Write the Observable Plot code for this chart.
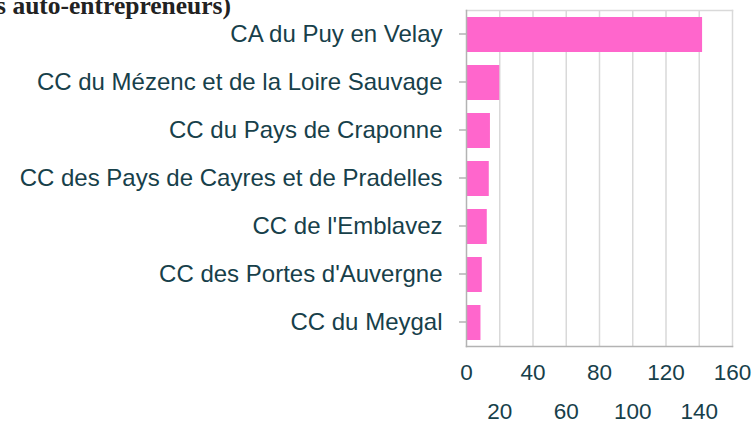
<!DOCTYPE html>
<html>
<head>
<meta charset="utf-8">
<script src="https://cdn.jsdelivr.net/npm/d3@7"></script>
<script src="https://cdn.jsdelivr.net/npm/@observablehq/plot@0.6"></script>
<style>
  html, body { margin: 0; padding: 0; background: #fff; }
  #wrap { position: relative; width: 752px; height: 423px; overflow: hidden; }
  #title { position: absolute; right: 521px; top: -8px; white-space: nowrap; line-height: 28px;
           font-family: "Liberation Serif", "Times New Roman", serif; font-weight: bold; font-size: 25.5px; color: #222; }
  #chart { position: absolute; left: 0; top: 0; }
</style>
</head>
<body>
<div id="wrap">
  <div id="chart"></div>
  <div id="title">Nombre d'établissements (y compris auto-entrepreneurs)</div>
</div>
<script>
const categories = [
  "CA du Puy en Velay",
  "CC du Mézenc et de la Loire Sauvage",
  "CC du Pays de Craponne",
  "CC des Pays de Cayres et de Pradelles",
  "CC de l'Emblavez",
  "CC des Portes d'Auvergne",
  "CC du Meygal"
];
const values = [142, 20, 14.4, 13.7, 12.5, 9.5, 8.7];
const ticksRow1 = [0, 40, 80, 120, 160];
const ticksRow2 = [20, 60, 100, 140];
const gridTicks = [20, 40, 60, 80, 100, 120, 140];

const data = categories.map((c, i) => ({name: c, value: values[i]}));
const textColor = "#17404a";
const font = "'Liberation Sans', Arial, sans-serif";

const chart = Plot.plot({
  width: 752,
  height: 423,
  marginLeft: 466,
  marginRight: 20,
  marginTop: 10,
  marginBottom: 77,
  style: {fontFamily: font, fontSize: "22px", color: textColor, background: "#fff"},
  x: {domain: [0, 160], axis: null, label: null},
  y: {domain: categories, paddingInner: 0.28, paddingOuter: 0.14, axis: null, label: null},
  marks: [
    Plot.gridX(gridTicks, {stroke: "#d9d9d9", strokeOpacity: 1, strokeWidth: 1.5}),
    Plot.frame({anchor: "top", stroke: "#d9d9d9", strokeWidth: 1.5}),
    Plot.frame({anchor: "right", stroke: "#d9d9d9", strokeWidth: 1.5}),
    Plot.barX(data, {y: "name", x: "value", fill: "#ff66cc"}),
    Plot.frame({anchor: "bottom", stroke: "#b3b3b3", strokeWidth: 1.5}),
    Plot.frame({anchor: "left", stroke: "#b3b3b3", strokeWidth: 1.5}),
    Plot.axisY({anchor: "left", label: null, tickSize: 7, tickPadding: 17, stroke: "#b3b3b3", strokeWidth: 1.5,
                fontSize: 24, fill: textColor, dy: -1, tickFormat: d => d}),
    Plot.axisX(ticksRow1, {anchor: "bottom", label: null, tickSize: 0, tickPadding: 18, fontSize: 22.5, fill: textColor}),
    Plot.axisX(ticksRow2, {anchor: "bottom", label: null, tickSize: 0, tickPadding: 57, fontSize: 22.5, fill: textColor})
  ]
});
document.getElementById("chart").appendChild(chart);
</script>
</body>
</html>
